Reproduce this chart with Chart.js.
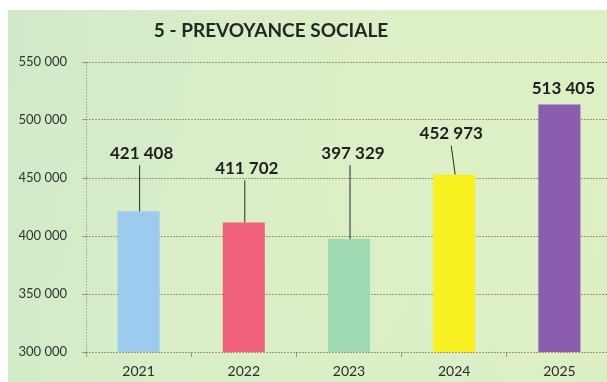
<!DOCTYPE html>
<html>
<head>
<meta charset="utf-8">
<script src="https://cdn.jsdelivr.net/npm/chart.js@4.4.1/dist/chart.umd.min.js"></script>
<style>
  html, body { margin: 0; padding: 0; background: #ffffff; overflow: hidden; }
  #wrap { width: 620px; height: 382px; }
</style>
</head>
<body>
<div id="wrap"><canvas id="c" width="620" height="382"></canvas></div>
<script>
const categories = ['2021', '2022', '2023', '2024', '2025'];
const values = [421408, 411702, 397329, 452973, 513405];
const barColors = ['#9dcbef', '#f0627c', '#9fd9b2', '#f9f122', '#8b5daf'];
const yTicks = [300000, 350000, 400000, 450000, 500000, 550000];
const titleText = '5 - PREVOYANCE SOCIALE';

function fmt(v) {
  return String(v).replace(/\B(?=(\d{3})+(?!\d))/g, ' ');
}

const bgPlugin = {
  id: 'bg',
  beforeDraw(chart) {
    const ctx = chart.ctx;
    ctx.save();
    ctx.fillStyle = '#ffffff';
    ctx.fillRect(0, 0, chart.width, chart.height);
    const g = ctx.createLinearGradient(8, 10, 620, 382);
    g.addColorStop(0, '#d2e9c9');
    g.addColorStop(0.5, '#d6edc8');
    g.addColorStop(1, '#d2ebc8');
    ctx.fillStyle = g;
    ctx.fillRect(8, 10, chart.width - 8, chart.height - 10);
    const g2 = ctx.createLinearGradient(8, 0, 620, 0);
    g2.addColorStop(0, 'rgba(235,245,200,0)');
    g2.addColorStop(0.6, 'rgba(235,245,195,0.3)');
    g2.addColorStop(1, 'rgba(235,245,190,0.4)');
    ctx.fillStyle = g2;
    ctx.fillRect(8, 10, chart.width - 8, chart.height - 10);
    ctx.restore();
  },
  afterDraw(chart) {
    const ctx = chart.ctx;
    ctx.save();
    ctx.font = 'bold 19px Lato';
    ctx.fillStyle = '#262626';
    ctx.textAlign = 'center';
    ctx.textBaseline = 'middle';
    ctx.fillText(titleText, 271, 31);
    ctx.restore();
  }
};

const labelPlugin = {
  id: 'valLabels',
  afterDatasetsDraw(chart, args, opts) {
    const ctx = chart.ctx;
    const meta = chart.getDatasetMeta(0);
    ctx.save();
    meta.data.forEach((bar, i) => {
      const off = opts.offsets[i];
      const dx = opts.dx[i];
      const ly = bar.y - off;
      const lx = bar.x + dx;
      ctx.font = 'bold 17px Lato';
      ctx.fillStyle = '#1f1f1f';
      ctx.textAlign = 'center';
      ctx.textBaseline = 'middle';
      ctx.fillText(fmt(values[i]), lx, ly);
      if (off > 25) {
        ctx.strokeStyle = '#2a2a2a';
        ctx.lineWidth = 1;
        ctx.beginPath();
        ctx.moveTo(bar.x + opts.lineTop[i], ly + 12);
        ctx.lineTo(bar.x + 1, bar.y);
        ctx.stroke();
      }
    });
    ctx.restore();
  }
};

const gridColor = 'rgba(150,128,88,0.8)';

new Chart(document.getElementById('c'), {
  type: 'bar',
  data: {
    labels: categories,
    datasets: [{
      data: values,
      backgroundColor: barColors,
      borderWidth: 0,
      barPercentage: 0.4,
      categoryPercentage: 1
    }]
  },
  options: {
    responsive: false,
    animation: false,
    layout: { padding: { top: 62, right: 8, left: 0, bottom: 0 } },
    plugins: {
      legend: { display: false },
      tooltip: { enabled: false },
      title: { display: false },
      valLabels: {
        offsets: [58, 54, 86, 41, 16],
        dx: [3, 3, 4, -3, 4],
        lineTop: [1, 1, 1, -3, 0]
      }
    },
    scales: {
      x: {
        offset: true,
        grid: {
          offset: true,
          drawOnChartArea: true,
          color: (c) => (c.index === 0 ? 'rgba(150,140,110,0.6)' : 'rgba(0,0,0,0)'),
          tickColor: gridColor,
          tickLength: 5,
          lineWidth: 1
        },
        border: { display: false, dash: [2, 1] },
        ticks: {
          color: '#2b2b2b',
          font: { family: 'Lato', size: 14 },
          padding: 6
        },
        afterFit(s) { s.height = 30; }
      },
      y: {
        min: 300000,
        max: 550000,
        afterBuildTicks(s) { s.ticks = yTicks.map(v => ({ value: v })); },
        grid: {
          color: gridColor,
          tickColor: gridColor,
          tickLength: 4,
          lineWidth: 1
        },
        border: { display: false, dash: [2, 1] },
        ticks: {
          color: '#333333',
          font: { family: 'Lato', size: 13 },
          padding: 15,
          callback: (v) => fmt(v)
        },
        afterFit(s) { s.width = 86; }
      }
    }
  },
  plugins: [bgPlugin, labelPlugin]
});
</script>
</body>
</html>
